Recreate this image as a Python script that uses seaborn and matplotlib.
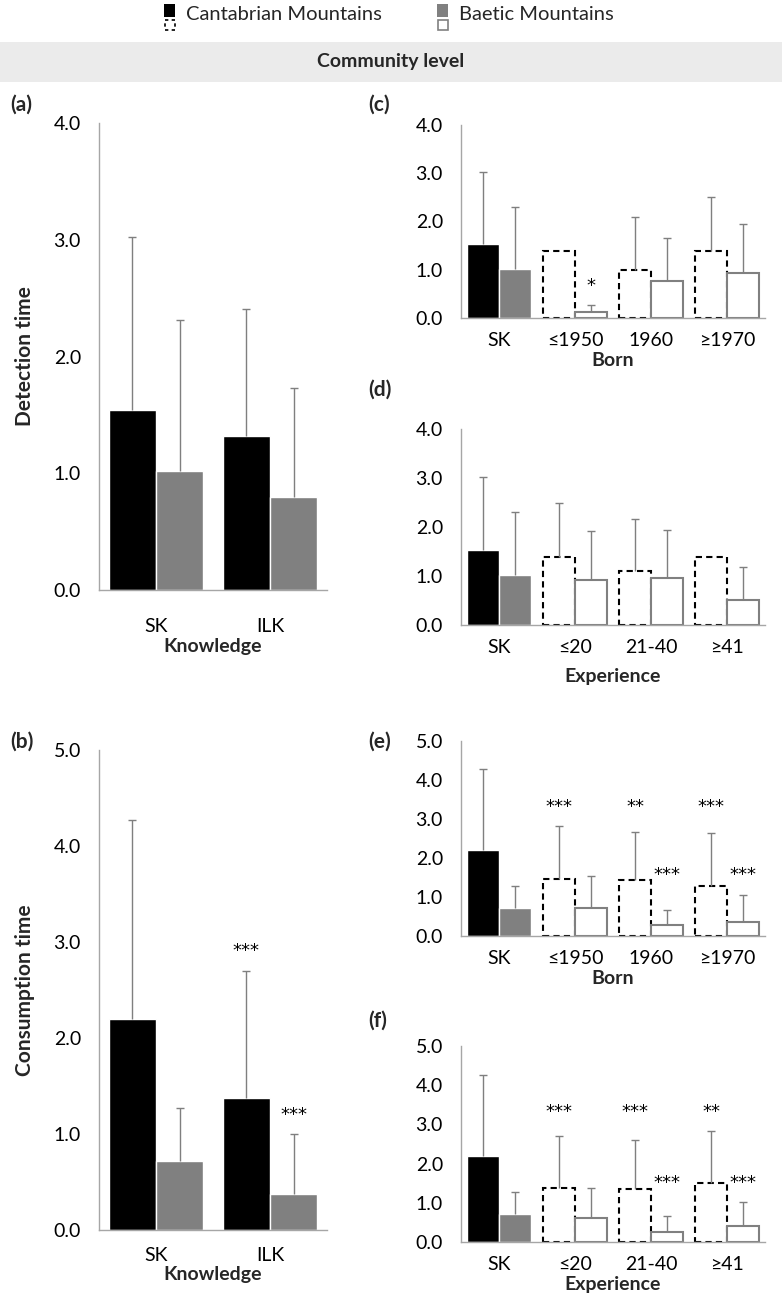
import numpy as np
import pandas as pd
import matplotlib
matplotlib.use('Agg')
import matplotlib.pyplot as plt
from matplotlib.patches import Rectangle
from matplotlib.ticker import FormatStrFormatter
import seaborn as sns

W, H = 782, 1304

regions = ['Cantabrian Mountains', 'Baetic Mountains']

knowledge_groups = ['SK', 'ILK']
born_groups = ['SK', '≤1950', '1960', '≥1970']
experience_groups = ['SK', '≤20', '21-40', '≥41']

# (a) detection time ~ knowledge  (err = top of the error bar)
det_know_cant = [1.54, 1.32]
det_know_baet = [1.02, 0.80]
det_know_cant_err = [3.02, 2.41]
det_know_baet_err = [2.31, 1.73]

# (b) consumption time ~ knowledge
con_know_cant = [2.20, 1.38]
con_know_baet = [0.72, 0.38]
con_know_cant_err = [4.27, 2.70]
con_know_baet_err = [1.27, 1.00]
con_know_cant_stars = ['', '***']
con_know_baet_stars = ['', '***']

# (c) detection time ~ born
det_born_cant = [1.54, 1.39, 1.00, 1.39]
det_born_baet = [1.02, 0.12, 0.76, 0.94]
det_born_cant_err = [3.02, np.nan, 2.10, 2.50]
det_born_baet_err = [2.31, 0.26, 1.66, 1.94]
det_born_baet_stars = ['', '*', '', '']

# (d) detection time ~ experience
det_exp_cant = [1.54, 1.38, 1.10, 1.38]
det_exp_baet = [1.02, 0.91, 0.95, 0.52]
det_exp_cant_err = [3.02, 2.50, 2.17, np.nan]
det_exp_baet_err = [2.31, 1.92, 1.94, 1.18]

# (e) consumption time ~ born
con_born_cant = [2.20, 1.47, 1.43, 1.28]
con_born_baet = [0.72, 0.72, 0.28, 0.37]
con_born_cant_err = [4.27, 2.81, 2.67, 2.64]
con_born_baet_err = [1.27, 1.55, 0.66, 1.06]
con_born_cant_stars = ['', '***', '**', '***']
con_born_baet_stars = ['', '', '***', '***']

# (f) consumption time ~ experience
con_exp_cant = [2.20, 1.38, 1.34, 1.50]
con_exp_baet = [0.72, 0.60, 0.26, 0.40]
con_exp_cant_err = [4.27, 2.70, 2.60, 2.83]
con_exp_baet_err = [1.27, 1.38, 0.66, 1.02]
con_exp_cant_stars = ['', '***', '***', '**']
con_exp_baet_stars = ['', '', '***', '***']

sns.set_theme(style='white')
plt.rcParams['font.family'] = ['Lato', 'Noto Sans', 'DejaVu Sans']

AXIS_GREY = '#a6a6a6'
ERR_GREY = '#7f7f7f'
BAR_GREY = '#808080'
FS = 14


def px_box(left, top, right, bottom):
    return [left / W, 1 - bottom / H, (right - left) / W, (bottom - top) / H]


def fig_text(fig, x, y, s, **kw):
    fig.text(x / W, 1 - y / H, s, **kw)


def draw_panel(ax, groups, cant, baet, cant_err, baet_err, ymax, xlabel,
               cant_stars=None, baet_stars=None, open_bars=False, xpad=10, lpad=2):
    df = pd.DataFrame({
        'group': groups * 2,
        'region': [regions[0]] * len(groups) + [regions[1]] * len(groups),
        'value': cant + baet,
    })
    sns.barplot(data=df, x='group', y='value', hue='region', order=groups,
                hue_order=regions, palette=['black', BAR_GREY], saturation=1,
                width=0.83, errorbar=None, legend=False, ax=ax)
    bars = list(ax.containers[:2])

    # white bars with dashed / grey outline for the sub-groups
    if open_bars:
        for cont, edge, ls in zip(bars, ['black', BAR_GREY], [(0, (3, 2)), 'solid']):
            for p in cont.patches[1:]:
                p.set_facecolor('white')
                p.set_edgecolor(edge)
                p.set_linestyle(ls)
                p.set_linewidth(1.5)

    stars_all = [cant_stars or [''] * len(groups), baet_stars or [''] * len(groups)]
    for cont, err, stars in zip(bars, [cant_err, baet_err], stars_all):
        xs = np.array([p.get_x() + p.get_width() / 2 for p in cont.patches])
        hs = np.array([p.get_height() for p in cont.patches])
        err = np.array(err)
        # upper half of the error bar only, capped at the top
        ax.vlines(xs, hs, err, color=ERR_GREY, lw=1, zorder=3)
        ax.plot(xs, err, ls='none', marker='_', ms=6, mew=1, color=ERR_GREY, zorder=3)
        starred = [e for e, s in zip(err, stars) if s]
        if starred:
            level = max(starred)
            for x, s in zip(xs, stars):
                if s:
                    ax.annotate(s, (x, level), xytext=(0, 14), textcoords='offset points',
                                ha='center', va='center', fontsize=13, color='black',
                                family='DejaVu Sans')

    ax.set_ylim(0, ymax)
    ax.set_xlim(-0.5, len(groups) - 0.5)
    ax.set_yticks(np.arange(0, ymax + 0.01, 1.0))
    ax.yaxis.set_major_formatter(FormatStrFormatter('%.1f'))
    sns.despine(ax=ax)
    for s in ['left', 'bottom']:
        ax.spines[s].set_color(AXIS_GREY)
        ax.spines[s].set_linewidth(1)
    ax.tick_params(axis='y', length=0, pad=13, labelsize=FS, labelcolor='black')
    ax.tick_params(axis='x', length=0, pad=xpad, labelsize=FS, labelcolor='black')
    ax.set_xlabel(xlabel, fontweight='bold', fontsize=FS, labelpad=lpad)
    ax.set_ylabel('')


fig = plt.figure(figsize=(W / 100, H / 100), dpi=100)

# legend (two stacked swatches per region)
fig.add_artist(Rectangle((164 / W, 1 - 17 / H), 11 / W, 13 / H, transform=fig.transFigure,
                         facecolor='black', edgecolor='black', lw=0))
fig.add_artist(Rectangle((165 / W, 1 - 30 / H), 10 / W, 10 / H, transform=fig.transFigure,
                         facecolor='white', edgecolor='black', lw=1.2, ls=(0, (2, 2))))
fig.add_artist(Rectangle((437 / W, 1 - 17 / H), 11 / W, 13 / H, transform=fig.transFigure,
                         facecolor=BAR_GREY, edgecolor=BAR_GREY, lw=0))
fig.add_artist(Rectangle((438 / W, 1 - 30 / H), 10 / W, 10 / H, transform=fig.transFigure,
                         facecolor='white', edgecolor=BAR_GREY, lw=1.2))
fig_text(fig, 186, 14, regions[0], fontsize=14.5, va='center', ha='left')
fig_text(fig, 459, 14, regions[1], fontsize=14.5, va='center', ha='left')

# grey band with the title
fig.add_artist(Rectangle((0, 1 - 82 / H), 1, 40 / H, transform=fig.transFigure,
                         facecolor='#ebebeb', edgecolor='none'))
fig_text(fig, 391, 62, 'Community level', fontsize=14, fontweight='bold',
         ha='center', va='center')

ax_a = fig.add_axes(px_box(99, 123, 327, 590))
ax_b = fig.add_axes(px_box(99, 750, 327, 1230))
ax_c = fig.add_axes(px_box(461, 125, 765, 318))
ax_d = fig.add_axes(px_box(461, 429, 765, 625))
ax_e = fig.add_axes(px_box(461, 741, 765, 936))
ax_f = fig.add_axes(px_box(461, 1046, 765, 1242))

draw_panel(ax_a, knowledge_groups, det_know_cant, det_know_baet,
           det_know_cant_err, det_know_baet_err, 4, 'Knowledge', xpad=20)
draw_panel(ax_b, knowledge_groups, con_know_cant, con_know_baet,
           con_know_cant_err, con_know_baet_err, 5, 'Knowledge',
           cant_stars=con_know_cant_stars, baet_stars=con_know_baet_stars, xpad=12)
draw_panel(ax_c, born_groups, det_born_cant, det_born_baet,
           det_born_cant_err, det_born_baet_err, 4, 'Born',
           baet_stars=det_born_baet_stars, open_bars=True)
draw_panel(ax_d, experience_groups, det_exp_cant, det_exp_baet,
           det_exp_cant_err, det_exp_baet_err, 4, 'Experience', open_bars=True, lpad=9)
draw_panel(ax_e, born_groups, con_born_cant, con_born_baet,
           con_born_cant_err, con_born_baet_err, 5, 'Born',
           cant_stars=con_born_cant_stars, baet_stars=con_born_baet_stars, open_bars=True)
draw_panel(ax_f, experience_groups, con_exp_cant, con_exp_baet,
           con_exp_cant_err, con_exp_baet_err, 5, 'Experience',
           cant_stars=con_exp_cant_stars, baet_stars=con_exp_baet_stars, open_bars=True)

ax_a.set_ylabel('Detection time', fontweight='bold', fontsize=15)
ax_a.yaxis.set_label_coords(-0.28, 0.5)
ax_b.set_ylabel('Consumption time', fontweight='bold', fontsize=15)
ax_b.yaxis.set_label_coords(-0.28, 0.5)

for lab, x, y in [('(a)', 10, 105), ('(b)', 10, 742), ('(c)', 368, 105),
                  ('(d)', 368, 390), ('(e)', 368, 742), ('(f)', 368, 1021)]:
    fig_text(fig, x, y, lab, fontsize=15, fontweight='bold', ha='left', va='center')

fig.savefig('out.png', dpi=100, facecolor='white')
